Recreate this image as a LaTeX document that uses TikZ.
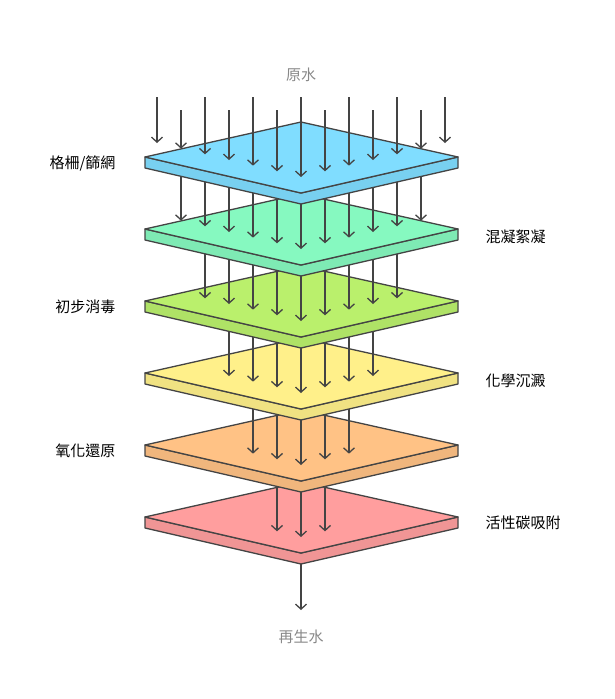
\documentclass[tikz,border=0pt]{standalone}
\usepackage{fontspec}
\setmainfont{Noto Sans CJK TC}
\usetikzlibrary{arrows.meta}
\definecolor{edgec}{HTML}{444444}
\definecolor{labc}{HTML}{888888}
\definecolor{plate1}{HTML}{80DDFF}
\definecolor{plate2}{HTML}{86F9C0}
\definecolor{plate3}{HTML}{BAF06C}
\definecolor{plate4}{HTML}{FFF08A}
\definecolor{plate5}{HTML}{FFC285}
\definecolor{plate6}{HTML}{FF9E9E}
\begin{document}
\begin{tikzpicture}[x=1pt, y=-1pt,
  flow/.style = {draw=edgec, line width=1.3pt, -{Straight Barb[length=5pt,width=11pt]}},
  plate/.style = {draw=edgec, line width=1.3pt, line join=round},
  lab/.style = {font=\fontsize{15}{18}\selectfont, text=black}]
\useasboundingbox (0,0) rectangle (614,699);
\node[lab, text=labc] (in) at (301,75) {原水};
\node[lab, text=labc] (out) at (301,637) {再生水};
\coordinate (outtop) at (301,517);
\coordinate (outend) at (301,610);
\draw[flow] (outtop) -- (outend);
% plates drawn from the bottom up
\foreach \n in {6,5,...,1} {
  \pgfmathsetmacro\yy{157+72*(\n-1)}
  \pgfmathtruncatemacro\ka{\n-1}
  \pgfmathtruncatemacro\kb{13-\n}
  \draw[plate, fill=plate\n!80!black!30!plate\n] (145,\yy) -- (145,\yy+11) -- (301,\yy+47)
    -- (458,\yy+11) -- (458,\yy) -- (301,\yy+36) -- cycle;
  \draw[plate, fill=plate\n] (145,\yy) -- (301,\yy-35) -- (458,\yy) -- (301,\yy+36) -- cycle;
  \foreach \k in {\ka,...,\kb} {
    \pgfmathsetmacro\xx{157+24*\k}
    \pgfmathsetmacro\ye{\yy+20-0.236*abs(\xx-301)}
    \pgfmathsetmacro\ys{\n==1 ? (isodd(\k) ? 110 : 97) : \yy-72}
    \coordinate (s\n-\k) at (\xx,\ys);
    \coordinate (e\n-\k) at (\xx,\ye);
    \draw[flow] (s\n-\k) -- (e\n-\k);
  }
}
\node[lab, anchor=east] (l1) at (119,163) {格柵/篩網};
\node[lab, anchor=west] (l2) at (482,237) {混凝絮凝};
\node[lab, anchor=east] (l3) at (119,307) {初步消毒};
\node[lab, anchor=west] (l4) at (482,381) {化學沉澱};
\node[lab, anchor=east] (l5) at (119,451) {氧化還原};
\node[lab, anchor=west] (l6) at (482,523) {活性碳吸附};
\end{tikzpicture}
\end{document}
